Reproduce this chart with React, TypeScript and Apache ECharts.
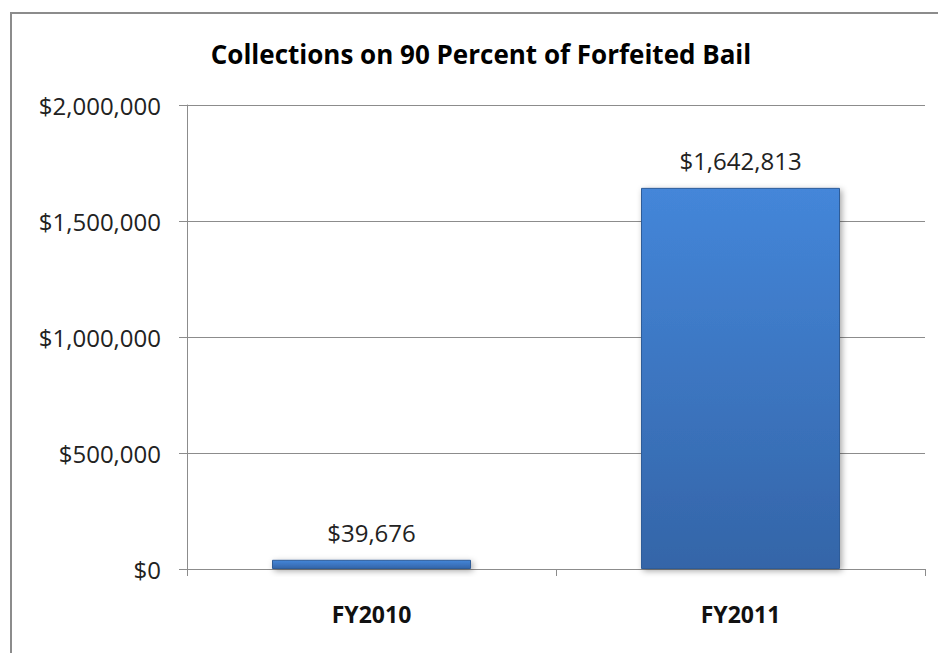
import React, { useEffect, useRef } from "react";
import * as echarts from "echarts";

const categories = ["FY2010", "FY2011"];
const values = [39676, 1642813];
const yTicks = { min: 0, max: 2000000, interval: 500000 };
const titleText = "Collections on 90 Percent of Forfeited Bail";

const FONT = "'Open Sans', Lato, sans-serif";
const money = (v: number) => "$" + Math.round(v).toLocaleString("en-US");

export default function App() {
  const ref = useRef<HTMLDivElement>(null);
  useEffect(() => {
    document.body.style.margin = "0";
    const chart = echarts.init(ref.current!, undefined, { renderer: "svg" });
    chart.setOption({
      animation: false,
      backgroundColor: "#ffffff",
      title: {
        text: titleText,
        left: 476,
        textAlign: "center",
        top: 36,
        textStyle: { fontFamily: FONT, fontSize: 26, fontWeight: "bold", color: "#000" },
      },
      graphic: [
        {
          type: "rect",
          shape: { x: 11, y: 13, width: 940, height: 660 },
          style: { fill: "none", stroke: "#8c8c8c", lineWidth: 2 },
          silent: true,
        },
      ],
      grid: { left: 187, right: 13, top: 105, bottom: 84 },
      xAxis: {
        type: "category",
        data: categories,
        axisLine: { lineStyle: { color: "#8c8c8c", width: 1 } },
        axisTick: { show: true, length: 7, lineStyle: { color: "#8c8c8c" } },
        axisLabel: {
          margin: 33,
          fontFamily: FONT,
          fontSize: 23,
          fontWeight: "bold",
          color: "#111",
        },
      },
      yAxis: {
        type: "value",
        min: yTicks.min,
        max: yTicks.max,
        interval: yTicks.interval,
        axisLine: { show: true, lineStyle: { color: "#8c8c8c", width: 1 } },
        axisTick: { show: true, length: 8, inside: false, lineStyle: { color: "#8c8c8c" } },
        splitLine: { show: true, lineStyle: { color: "#8c8c8c", width: 1 } },
        axisLabel: {
          margin: 26,
          fontFamily: FONT,
          fontSize: 24,
          color: "#222",
          formatter: (v: number) => money(v),
        },
      },
      series: [
        {
          type: "bar",
          data: values,
          barWidth: 199,
          itemStyle: {
            color: new echarts.graphic.LinearGradient(0, 0, 0, 1, [
              { offset: 0, color: "#4486d9" },
              { offset: 1, color: "#3465a8" },
            ]),
            borderColor: "#2f5c98",
            borderWidth: 1,
            shadowColor: "rgba(0,0,0,0.35)",
            shadowBlur: 6,
            shadowOffsetX: 2,
            shadowOffsetY: 2,
          },
          label: {
            show: true,
            position: "top",
            distance: 15,
            fontFamily: FONT,
            fontSize: 24,
            color: "#222",
            formatter: (p: any) => money(p.value),
          },
        },
      ],
    });
    return () => chart.dispose();
  }, []);
  return <div ref={ref} style={{ width: 938, height: 653 }} />;
}
